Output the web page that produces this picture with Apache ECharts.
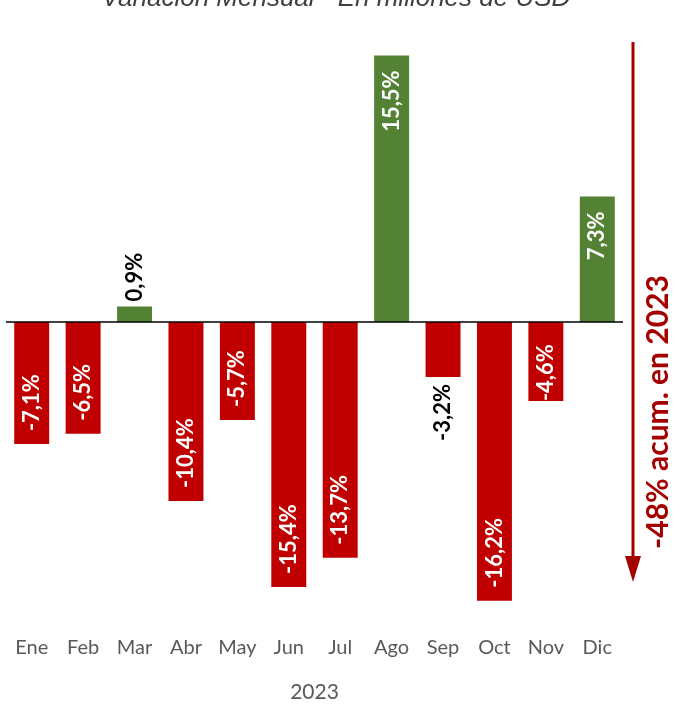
<!DOCTYPE html>
<html>
<head>
<meta charset="utf-8">
<script src="https://cdn.jsdelivr.net/npm/echarts@6/dist/echarts.min.js"></script>
<style>
  html, body { margin: 0; padding: 0; background: #fff; }
  #chart { width: 673px; height: 704px; }
</style>
</head>
<body>
<div id="chart"></div>
<script>
const months = ["Ene", "Feb", "Mar", "Abr", "May", "Jun", "Jul", "Ago", "Sep", "Oct", "Nov", "Dic"];
const values = [-7.1, -6.5, 0.9, -10.4, -5.7, -15.4, -13.7, 15.5, -3.2, -16.2, -4.6, 7.3];
const yearLabel = "2023";
const titleText = "Variación Mensual - En millones de USD";
const noteText = "-48% acum. en 2023";

const RED = "#c00000";
const GREEN = "#548235";
const DARK_RED = "#a50000";

const fmt = v => v.toFixed(1).replace(".", ",") + "%";

function labelFor(v) {
  const base = { show: true, rotate: 90, verticalAlign: "middle", fontFamily: "Lato", fontWeight: "bold", fontSize: 22, formatter: p => fmt(p.value) };
  const a = Math.abs(v);
  if (a < 4) {
    // short bars: label outside the bar, dark text
    return v >= 0
      ? { ...base, position: "top", align: "left", distance: 5, color: "#000" }
      : { ...base, position: "bottom", align: "right", distance: 7, color: "#000" };
  }
  const dist = a < 5 ? 0 : 13;
  return v >= 0
    ? { ...base, position: "insideTop", align: "right", distance: 15, color: "#fff" }
    : { ...base, position: "insideBottom", align: "left", distance: dist, color: "#fff" };
}

const chart = echarts.init(document.getElementById("chart"));
chart.setOption({
  backgroundColor: "#fff",
  animation: false,
  title: {
    text: titleText,
    left: 331,
    textAlign: "center",
    top: -19,
    textStyle: { fontFamily: "Liberation Sans", fontStyle: "italic", fontWeight: "normal", fontSize: 26, color: "#404040" }
  },
  grid: { left: 6, right: 50, top: 29.6, bottom: 72.4, containLabel: false, outerBoundsMode: "none" },
  xAxis: {
    type: "category",
    data: months,
    position: "bottom",
    axisLine: { show: false, onZero: false },
    axisTick: { show: false },
    axisLabel: { color: "#595959", fontFamily: "Lato", fontSize: 20, margin: 6 },
    name: yearLabel,
    nameLocation: "middle",
    nameGap: 50,
    nameTextStyle: { color: "#595959", fontFamily: "Lato", fontSize: 21 }
  },
  yAxis: { type: "value", min: -18, max: 17, show: false, splitLine: { show: false } },
  series: [{
    type: "bar",
    barWidth: "68%",
    data: values.map(v => ({
      value: v,
      itemStyle: { color: v >= 0 ? GREEN : RED },
      label: labelFor(v)
    })),
    markLine: {
      silent: true,
      symbol: "none",
      label: { show: false },
      lineStyle: { color: "#000", width: 1.5, type: "solid" },
      data: [{ yAxis: 0 }]
    }
  }],
  graphic: [
    { type: "line", shape: { x1: 633, y1: 42, x2: 633, y2: 560 }, style: { stroke: DARK_RED, lineWidth: 3 } },
    { type: "polygon", shape: { points: [[625, 556], [641, 556], [633, 582]] }, style: { fill: DARK_RED } },
    {
      type: "text",
      x: 658, y: 412,
      rotation: Math.PI / 2,
      style: { text: noteText, fill: DARK_RED, font: "bold 30px Lato", align: "center", verticalAlign: "middle" }
    }
  ]
});
</script>
</body>
</html>
